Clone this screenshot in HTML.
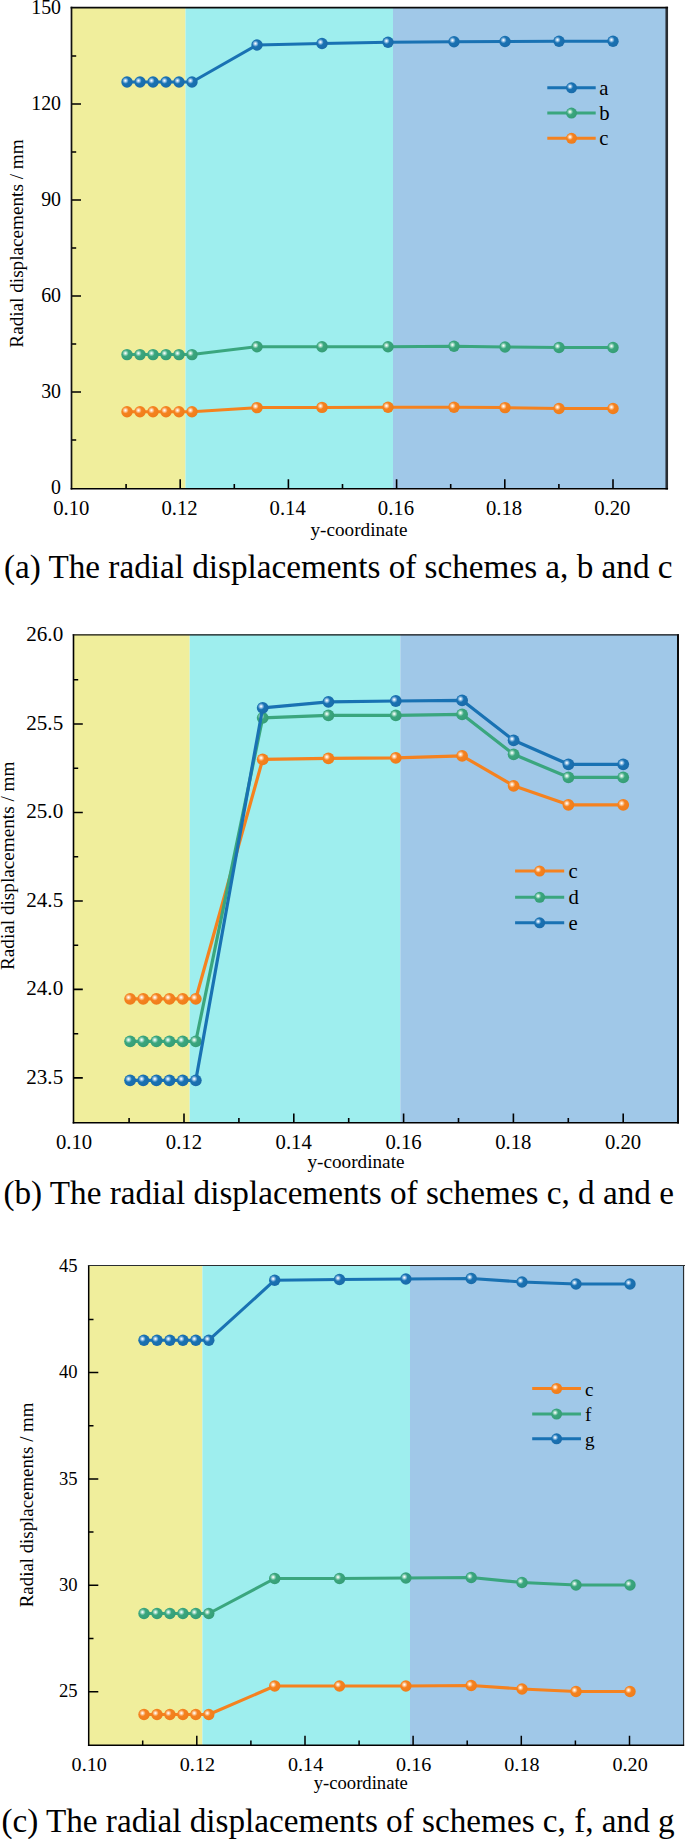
<!DOCTYPE html>
<html><head><meta charset="utf-8"><title>Radial displacements</title>
<style>html,body{margin:0;padding:0;background:#fff}svg{display:block}</style></head><body>
<svg width="685" height="1839" viewBox="0 0 685 1839">
<defs>
<radialGradient id="gB" cx="0.365" cy="0.38" r="0.70" fx="0.365" fy="0.38"><stop offset="0" stop-color="#ffffff"/><stop offset="0.07" stop-color="#e4f0fa"/><stop offset="0.22" stop-color="#84b6de"/><stop offset="0.40" stop-color="#1972b3"/><stop offset="1" stop-color="#1a6aa8"/></radialGradient>
<radialGradient id="gG" cx="0.365" cy="0.38" r="0.70" fx="0.365" fy="0.38"><stop offset="0" stop-color="#ffffff"/><stop offset="0.07" stop-color="#e6f6f0"/><stop offset="0.22" stop-color="#94d2ba"/><stop offset="0.40" stop-color="#3aa67e"/><stop offset="1" stop-color="#359c74"/></radialGradient>
<radialGradient id="gO" cx="0.365" cy="0.38" r="0.70" fx="0.365" fy="0.38"><stop offset="0" stop-color="#ffffff"/><stop offset="0.07" stop-color="#fff2e4"/><stop offset="0.22" stop-color="#fbbe88"/><stop offset="0.40" stop-color="#f5821f"/><stop offset="1" stop-color="#ee7c1a"/></radialGradient>
</defs>
<rect width="685" height="1839" fill="#fff"/>
<rect x="71.5" y="7.5" width="114.0" height="481.2" fill="#f0ee9c"/>
<rect x="185.5" y="7.5" width="207.5" height="481.2" fill="#9eeeee"/>
<rect x="393" y="7.5" width="274.1" height="481.2" fill="#a0c8e8"/>
<path d="M127,82 L140,82 L153,82 L166,82 L179,82 L192,82 L257,45 L322,43.5 L388,42.3 L454,41.7 L505,41.5 L559,41.2 L613,41.2" fill="none" stroke="#1972b3" stroke-width="3" stroke-linejoin="round"/>
<circle cx="127" cy="82" r="5.7" fill="url(#gB)"/>
<circle cx="140" cy="82" r="5.7" fill="url(#gB)"/>
<circle cx="153" cy="82" r="5.7" fill="url(#gB)"/>
<circle cx="166" cy="82" r="5.7" fill="url(#gB)"/>
<circle cx="179" cy="82" r="5.7" fill="url(#gB)"/>
<circle cx="192" cy="82" r="5.7" fill="url(#gB)"/>
<circle cx="257" cy="45" r="5.7" fill="url(#gB)"/>
<circle cx="322" cy="43.5" r="5.7" fill="url(#gB)"/>
<circle cx="388" cy="42.3" r="5.7" fill="url(#gB)"/>
<circle cx="454" cy="41.7" r="5.7" fill="url(#gB)"/>
<circle cx="505" cy="41.5" r="5.7" fill="url(#gB)"/>
<circle cx="559" cy="41.2" r="5.7" fill="url(#gB)"/>
<circle cx="613" cy="41.2" r="5.7" fill="url(#gB)"/>
<path d="M127,354.6 L140,354.6 L153,354.6 L166,354.6 L179,354.6 L192,354.6 L257,346.7 L322,346.7 L388,346.7 L454,346.2 L505,347 L559,347.5 L613,347.5" fill="none" stroke="#3aa67e" stroke-width="3" stroke-linejoin="round"/>
<circle cx="127" cy="354.6" r="5.7" fill="url(#gG)"/>
<circle cx="140" cy="354.6" r="5.7" fill="url(#gG)"/>
<circle cx="153" cy="354.6" r="5.7" fill="url(#gG)"/>
<circle cx="166" cy="354.6" r="5.7" fill="url(#gG)"/>
<circle cx="179" cy="354.6" r="5.7" fill="url(#gG)"/>
<circle cx="192" cy="354.6" r="5.7" fill="url(#gG)"/>
<circle cx="257" cy="346.7" r="5.7" fill="url(#gG)"/>
<circle cx="322" cy="346.7" r="5.7" fill="url(#gG)"/>
<circle cx="388" cy="346.7" r="5.7" fill="url(#gG)"/>
<circle cx="454" cy="346.2" r="5.7" fill="url(#gG)"/>
<circle cx="505" cy="347" r="5.7" fill="url(#gG)"/>
<circle cx="559" cy="347.5" r="5.7" fill="url(#gG)"/>
<circle cx="613" cy="347.5" r="5.7" fill="url(#gG)"/>
<path d="M127,411.7 L140,411.7 L153,411.7 L166,411.7 L179,411.7 L192,411.7 L257,407.6 L322,407.4 L388,407.2 L454,407.2 L505,407.6 L559,408.5 L613,408.5" fill="none" stroke="#f5821f" stroke-width="3" stroke-linejoin="round"/>
<circle cx="127" cy="411.7" r="5.7" fill="url(#gO)"/>
<circle cx="140" cy="411.7" r="5.7" fill="url(#gO)"/>
<circle cx="153" cy="411.7" r="5.7" fill="url(#gO)"/>
<circle cx="166" cy="411.7" r="5.7" fill="url(#gO)"/>
<circle cx="179" cy="411.7" r="5.7" fill="url(#gO)"/>
<circle cx="192" cy="411.7" r="5.7" fill="url(#gO)"/>
<circle cx="257" cy="407.6" r="5.7" fill="url(#gO)"/>
<circle cx="322" cy="407.4" r="5.7" fill="url(#gO)"/>
<circle cx="388" cy="407.2" r="5.7" fill="url(#gO)"/>
<circle cx="454" cy="407.2" r="5.7" fill="url(#gO)"/>
<circle cx="505" cy="407.6" r="5.7" fill="url(#gO)"/>
<circle cx="559" cy="408.5" r="5.7" fill="url(#gO)"/>
<circle cx="613" cy="408.5" r="5.7" fill="url(#gO)"/>
<path d="M547.3,87.8 L595.7,87.8" stroke="#1972b3" stroke-width="3"/>
<circle cx="571.5" cy="87.8" r="5.5" fill="url(#gB)"/>
<text x="599.3" y="94.6" font-family="Liberation Serif, serif" font-size="20.7" fill="#000">a</text>
<path d="M547.3,113.1 L595.7,113.1" stroke="#3aa67e" stroke-width="3"/>
<circle cx="571.5" cy="113.1" r="5.5" fill="url(#gG)"/>
<text x="599.3" y="119.89999999999999" font-family="Liberation Serif, serif" font-size="20.7" fill="#000">b</text>
<path d="M547.3,138.3 L595.7,138.3" stroke="#f5821f" stroke-width="3"/>
<circle cx="571.5" cy="138.3" r="5.5" fill="url(#gO)"/>
<text x="599.3" y="145.10000000000002" font-family="Liberation Serif, serif" font-size="20.7" fill="#000">c</text>
<path d="M180.2,488.7 v-9.5 M288.4,488.7 v-9.5 M396.6,488.7 v-9.5 M504.8,488.7 v-9.5 M613,488.7 v-9.5 M126.1,488.7 v-4.7 M234.3,488.7 v-4.7 M342.5,488.7 v-4.7 M450.7,488.7 v-4.7 M558.9,488.7 v-4.7 M71.5,392 h9.5 M71.5,296 h9.5 M71.5,200 h9.5 M71.5,104 h9.5 M71.5,440 h4.7 M71.5,344 h4.7 M71.5,248 h4.7 M71.5,152 h4.7 M71.5,56 h4.7" stroke="#000" stroke-width="1.6" fill="none"/>
<path d="M71.5,6.625 V489.5" stroke="#111" stroke-width="1.7" fill="none"/>
<path d="M666.75,6.625 V489.5" stroke="#2a2e33" stroke-width="2.6" fill="none"/>
<path d="M70.65,7.5 H668.05" stroke="#0a0a0a" stroke-width="1.75" fill="none"/>
<path d="M70.65,488.7 H668.05" stroke="#000" stroke-width="1.6" fill="none"/>
<text transform="translate(71.3,515) scale(1,1)" text-anchor="middle" font-family="Liberation Serif, serif" font-size="20.7" fill="#000">0.10</text>
<text transform="translate(179.5,515) scale(1,1)" text-anchor="middle" font-family="Liberation Serif, serif" font-size="20.7" fill="#000">0.12</text>
<text transform="translate(287.7,515) scale(1,1)" text-anchor="middle" font-family="Liberation Serif, serif" font-size="20.7" fill="#000">0.14</text>
<text transform="translate(395.9,515) scale(1,1)" text-anchor="middle" font-family="Liberation Serif, serif" font-size="20.7" fill="#000">0.16</text>
<text transform="translate(504.1,515) scale(1,1)" text-anchor="middle" font-family="Liberation Serif, serif" font-size="20.7" fill="#000">0.18</text>
<text transform="translate(612.3,515) scale(1,1)" text-anchor="middle" font-family="Liberation Serif, serif" font-size="20.7" fill="#000">0.20</text>
<text transform="translate(61,494.3) scale(0.96,1)" text-anchor="end" font-family="Liberation Serif, serif" font-size="20.7" fill="#000">0</text>
<text transform="translate(61,398.3) scale(0.96,1)" text-anchor="end" font-family="Liberation Serif, serif" font-size="20.7" fill="#000">30</text>
<text transform="translate(61,302.3) scale(0.96,1)" text-anchor="end" font-family="Liberation Serif, serif" font-size="20.7" fill="#000">60</text>
<text transform="translate(61,206.3) scale(0.96,1)" text-anchor="end" font-family="Liberation Serif, serif" font-size="20.7" fill="#000">90</text>
<text transform="translate(61,110.3) scale(0.96,1)" text-anchor="end" font-family="Liberation Serif, serif" font-size="20.7" fill="#000">120</text>
<text transform="translate(61,14.3) scale(0.96,1)" text-anchor="end" font-family="Liberation Serif, serif" font-size="20.7" fill="#000">150</text>
<text x="359" y="535.9" text-anchor="middle" font-family="Liberation Serif, serif" font-size="19.2" fill="#000">y-coordinate</text>
<text transform="translate(23,243.5) rotate(-90)" text-anchor="middle" font-family="Liberation Serif, serif" font-size="19.2" fill="#000">Radial displacements / mm</text>
<text x="3.9" y="577.7" font-family="Liberation Serif, serif" font-size="33.2" fill="#000" textLength="668.7" lengthAdjust="spacingAndGlyphs">(a) The radial displacements of schemes a, b and c</text>
<rect x="73.5" y="634.4" width="116.19999999999999" height="488.30000000000007" fill="#f0ee9c"/>
<rect x="189.7" y="634.4" width="210.60000000000002" height="488.30000000000007" fill="#9eeeee"/>
<rect x="400.3" y="634.4" width="277.99999999999994" height="488.30000000000007" fill="#a0c8e8"/>
<path d="M130.1,998.8 L143.2,998.8 L156.4,998.8 L169.5,998.8 L182.7,998.8 L195.8,998.8 L262.7,759.3 L328.4,758.3 L395.8,757.8 L462.1,755.8 L513.6,785.8 L568.4,804.8 L623.2,804.8" fill="none" stroke="#f5821f" stroke-width="3.2" stroke-linejoin="round"/>
<circle cx="130.1" cy="998.8" r="5.9" fill="url(#gO)"/>
<circle cx="143.2" cy="998.8" r="5.9" fill="url(#gO)"/>
<circle cx="156.4" cy="998.8" r="5.9" fill="url(#gO)"/>
<circle cx="169.5" cy="998.8" r="5.9" fill="url(#gO)"/>
<circle cx="182.7" cy="998.8" r="5.9" fill="url(#gO)"/>
<circle cx="195.8" cy="998.8" r="5.9" fill="url(#gO)"/>
<circle cx="262.7" cy="759.3" r="5.9" fill="url(#gO)"/>
<circle cx="328.4" cy="758.3" r="5.9" fill="url(#gO)"/>
<circle cx="395.8" cy="757.8" r="5.9" fill="url(#gO)"/>
<circle cx="462.1" cy="755.8" r="5.9" fill="url(#gO)"/>
<circle cx="513.6" cy="785.8" r="5.9" fill="url(#gO)"/>
<circle cx="568.4" cy="804.8" r="5.9" fill="url(#gO)"/>
<circle cx="623.2" cy="804.8" r="5.9" fill="url(#gO)"/>
<path d="M130.1,1041.3 L143.2,1041.3 L156.4,1041.3 L169.5,1041.3 L182.7,1041.3 L195.8,1041.3 L262.7,717.8 L328.4,715.3 L395.8,715.3 L462.1,714.3 L513.6,754.3 L568.4,777.3 L623.2,777.3" fill="none" stroke="#3aa67e" stroke-width="3.2" stroke-linejoin="round"/>
<circle cx="130.1" cy="1041.3" r="5.9" fill="url(#gG)"/>
<circle cx="143.2" cy="1041.3" r="5.9" fill="url(#gG)"/>
<circle cx="156.4" cy="1041.3" r="5.9" fill="url(#gG)"/>
<circle cx="169.5" cy="1041.3" r="5.9" fill="url(#gG)"/>
<circle cx="182.7" cy="1041.3" r="5.9" fill="url(#gG)"/>
<circle cx="195.8" cy="1041.3" r="5.9" fill="url(#gG)"/>
<circle cx="262.7" cy="717.8" r="5.9" fill="url(#gG)"/>
<circle cx="328.4" cy="715.3" r="5.9" fill="url(#gG)"/>
<circle cx="395.8" cy="715.3" r="5.9" fill="url(#gG)"/>
<circle cx="462.1" cy="714.3" r="5.9" fill="url(#gG)"/>
<circle cx="513.6" cy="754.3" r="5.9" fill="url(#gG)"/>
<circle cx="568.4" cy="777.3" r="5.9" fill="url(#gG)"/>
<circle cx="623.2" cy="777.3" r="5.9" fill="url(#gG)"/>
<path d="M130.1,1080.3 L143.2,1080.3 L156.4,1080.3 L169.5,1080.3 L182.7,1080.3 L195.8,1080.3 L262.7,707.8 L328.4,701.9 L395.8,701.0 L462.1,700.3 L513.6,740.3 L568.4,764.3 L623.2,764.3" fill="none" stroke="#1972b3" stroke-width="3.2" stroke-linejoin="round"/>
<circle cx="130.1" cy="1080.3" r="5.9" fill="url(#gB)"/>
<circle cx="143.2" cy="1080.3" r="5.9" fill="url(#gB)"/>
<circle cx="156.4" cy="1080.3" r="5.9" fill="url(#gB)"/>
<circle cx="169.5" cy="1080.3" r="5.9" fill="url(#gB)"/>
<circle cx="182.7" cy="1080.3" r="5.9" fill="url(#gB)"/>
<circle cx="195.8" cy="1080.3" r="5.9" fill="url(#gB)"/>
<circle cx="262.7" cy="707.8" r="5.9" fill="url(#gB)"/>
<circle cx="328.4" cy="701.9" r="5.9" fill="url(#gB)"/>
<circle cx="395.8" cy="701.0" r="5.9" fill="url(#gB)"/>
<circle cx="462.1" cy="700.3" r="5.9" fill="url(#gB)"/>
<circle cx="513.6" cy="740.3" r="5.9" fill="url(#gB)"/>
<circle cx="568.4" cy="764.3" r="5.9" fill="url(#gB)"/>
<circle cx="623.2" cy="764.3" r="5.9" fill="url(#gB)"/>
<path d="M515.1,871 L564.2,871" stroke="#f5821f" stroke-width="3"/>
<circle cx="539.6500000000001" cy="871" r="5.5" fill="url(#gO)"/>
<text x="568.6" y="878.1" font-family="Liberation Serif, serif" font-size="20.7" fill="#000">c</text>
<path d="M515.1,897.3 L564.2,897.3" stroke="#3aa67e" stroke-width="3"/>
<circle cx="539.6500000000001" cy="897.3" r="5.5" fill="url(#gG)"/>
<text x="568.6" y="904.4" font-family="Liberation Serif, serif" font-size="20.7" fill="#000">d</text>
<path d="M515.1,922.8 L564.2,922.8" stroke="#1972b3" stroke-width="3"/>
<circle cx="539.6500000000001" cy="922.8" r="5.5" fill="url(#gB)"/>
<text x="568.6" y="929.9" font-family="Liberation Serif, serif" font-size="20.7" fill="#000">e</text>
<path d="M184.0,1122.7 v-9.3 M293.8,1122.7 v-9.3 M403.6,1122.7 v-9.3 M513.4,1122.7 v-9.3 M623.2,1122.7 v-9.3 M129.1,1122.7 v-4.7 M238.9,1122.7 v-4.7 M348.7,1122.7 v-4.7 M458.5,1122.7 v-4.7 M568.3,1122.7 v-4.7 M73.5,1077.9 h9.3 M73.5,989.4 h9.3 M73.5,901.0 h9.3 M73.5,812.5 h9.3 M73.5,724.0 h9.3 M73.5,1033.7 h4.7 M73.5,945.2 h4.7 M73.5,856.7 h4.7 M73.5,768.2 h4.7 M73.5,679.8 h4.7" stroke="#000" stroke-width="1.6" fill="none"/>
<path d="M73.5,634.125 V1123.5" stroke="#000" stroke-width="1.6" fill="none"/>
<path d="M678.0,634.125 V1123.5" stroke="#0a0a0a" stroke-width="2.0" fill="none"/>
<path d="M72.7,634.75 H679.0" stroke="#111" stroke-width="1.25" fill="none"/>
<path d="M72.7,1122.7 H679.0" stroke="#000" stroke-width="1.6" fill="none"/>
<text transform="translate(74.1,1148.9) scale(1,1)" text-anchor="middle" font-family="Liberation Serif, serif" font-size="20.7" fill="#000">0.10</text>
<text transform="translate(183.9,1148.9) scale(1,1)" text-anchor="middle" font-family="Liberation Serif, serif" font-size="20.7" fill="#000">0.12</text>
<text transform="translate(293.7,1148.9) scale(1,1)" text-anchor="middle" font-family="Liberation Serif, serif" font-size="20.7" fill="#000">0.14</text>
<text transform="translate(403.5,1148.9) scale(1,1)" text-anchor="middle" font-family="Liberation Serif, serif" font-size="20.7" fill="#000">0.16</text>
<text transform="translate(513.3,1148.9) scale(1,1)" text-anchor="middle" font-family="Liberation Serif, serif" font-size="20.7" fill="#000">0.18</text>
<text transform="translate(623.1,1148.9) scale(1,1)" text-anchor="middle" font-family="Liberation Serif, serif" font-size="20.7" fill="#000">0.20</text>
<text transform="translate(63.2,1083.8) scale(1.02,1)" text-anchor="end" font-family="Liberation Serif, serif" font-size="20.7" fill="#000">23.5</text>
<text transform="translate(63.2,995.3) scale(1.02,1)" text-anchor="end" font-family="Liberation Serif, serif" font-size="20.7" fill="#000">24.0</text>
<text transform="translate(63.2,906.9) scale(1.02,1)" text-anchor="end" font-family="Liberation Serif, serif" font-size="20.7" fill="#000">24.5</text>
<text transform="translate(63.2,818.4) scale(1.02,1)" text-anchor="end" font-family="Liberation Serif, serif" font-size="20.7" fill="#000">25.0</text>
<text transform="translate(63.2,729.9) scale(1.02,1)" text-anchor="end" font-family="Liberation Serif, serif" font-size="20.7" fill="#000">25.5</text>
<text transform="translate(63.2,641.4) scale(1.02,1)" text-anchor="end" font-family="Liberation Serif, serif" font-size="20.7" fill="#000">26.0</text>
<text x="356" y="1168" text-anchor="middle" font-family="Liberation Serif, serif" font-size="19.2" fill="#000">y-coordinate</text>
<text transform="translate(14,865.8) rotate(-90)" text-anchor="middle" font-family="Liberation Serif, serif" font-size="19.2" fill="#000">Radial displacements / mm</text>
<text x="3.4" y="1204.4" font-family="Liberation Serif, serif" font-size="33.2" fill="#000" textLength="670.5" lengthAdjust="spacingAndGlyphs">(b) The radial displacements of schemes c, d and e</text>
<rect x="88.7" y="1265.8" width="113.7" height="479.5" fill="#f0ee9c"/>
<rect x="202.4" y="1265.8" width="207.6" height="479.5" fill="#9eeeee"/>
<rect x="410" y="1265.8" width="274.1" height="479.5" fill="#a0c8e8"/>
<path d="M144.0,1714.5 L157.0,1714.5 L169.9,1714.5 L182.9,1714.5 L195.8,1714.5 L208.8,1714.5 L274.7,1686 L339.5,1686 L405.9,1686 L471.2,1685.5 L522.0,1689 L576.0,1691.5 L630.0,1691.5" fill="none" stroke="#f5821f" stroke-width="3.1" stroke-linejoin="round"/>
<circle cx="144.0" cy="1714.5" r="5.7" fill="url(#gO)"/>
<circle cx="157.0" cy="1714.5" r="5.7" fill="url(#gO)"/>
<circle cx="169.9" cy="1714.5" r="5.7" fill="url(#gO)"/>
<circle cx="182.9" cy="1714.5" r="5.7" fill="url(#gO)"/>
<circle cx="195.8" cy="1714.5" r="5.7" fill="url(#gO)"/>
<circle cx="208.8" cy="1714.5" r="5.7" fill="url(#gO)"/>
<circle cx="274.7" cy="1686" r="5.7" fill="url(#gO)"/>
<circle cx="339.5" cy="1686" r="5.7" fill="url(#gO)"/>
<circle cx="405.9" cy="1686" r="5.7" fill="url(#gO)"/>
<circle cx="471.2" cy="1685.5" r="5.7" fill="url(#gO)"/>
<circle cx="522.0" cy="1689" r="5.7" fill="url(#gO)"/>
<circle cx="576.0" cy="1691.5" r="5.7" fill="url(#gO)"/>
<circle cx="630.0" cy="1691.5" r="5.7" fill="url(#gO)"/>
<path d="M144.0,1613.5 L157.0,1613.5 L169.9,1613.5 L182.9,1613.5 L195.8,1613.5 L208.8,1613.5 L274.7,1578.5 L339.5,1578.5 L405.9,1578 L471.2,1577.5 L522.0,1582.5 L576.0,1585 L630.0,1585" fill="none" stroke="#3aa67e" stroke-width="3.1" stroke-linejoin="round"/>
<circle cx="144.0" cy="1613.5" r="5.7" fill="url(#gG)"/>
<circle cx="157.0" cy="1613.5" r="5.7" fill="url(#gG)"/>
<circle cx="169.9" cy="1613.5" r="5.7" fill="url(#gG)"/>
<circle cx="182.9" cy="1613.5" r="5.7" fill="url(#gG)"/>
<circle cx="195.8" cy="1613.5" r="5.7" fill="url(#gG)"/>
<circle cx="208.8" cy="1613.5" r="5.7" fill="url(#gG)"/>
<circle cx="274.7" cy="1578.5" r="5.7" fill="url(#gG)"/>
<circle cx="339.5" cy="1578.5" r="5.7" fill="url(#gG)"/>
<circle cx="405.9" cy="1578" r="5.7" fill="url(#gG)"/>
<circle cx="471.2" cy="1577.5" r="5.7" fill="url(#gG)"/>
<circle cx="522.0" cy="1582.5" r="5.7" fill="url(#gG)"/>
<circle cx="576.0" cy="1585" r="5.7" fill="url(#gG)"/>
<circle cx="630.0" cy="1585" r="5.7" fill="url(#gG)"/>
<path d="M144.0,1340.2 L157.0,1340.2 L169.9,1340.2 L182.9,1340.2 L195.8,1340.2 L208.8,1340.2 L274.7,1280.2 L339.5,1279.5 L405.9,1279 L471.2,1278.5 L522.0,1282 L576.0,1284 L630.0,1284" fill="none" stroke="#1972b3" stroke-width="3.1" stroke-linejoin="round"/>
<circle cx="144.0" cy="1340.2" r="5.7" fill="url(#gB)"/>
<circle cx="157.0" cy="1340.2" r="5.7" fill="url(#gB)"/>
<circle cx="169.9" cy="1340.2" r="5.7" fill="url(#gB)"/>
<circle cx="182.9" cy="1340.2" r="5.7" fill="url(#gB)"/>
<circle cx="195.8" cy="1340.2" r="5.7" fill="url(#gB)"/>
<circle cx="208.8" cy="1340.2" r="5.7" fill="url(#gB)"/>
<circle cx="274.7" cy="1280.2" r="5.7" fill="url(#gB)"/>
<circle cx="339.5" cy="1279.5" r="5.7" fill="url(#gB)"/>
<circle cx="405.9" cy="1279" r="5.7" fill="url(#gB)"/>
<circle cx="471.2" cy="1278.5" r="5.7" fill="url(#gB)"/>
<circle cx="522.0" cy="1282" r="5.7" fill="url(#gB)"/>
<circle cx="576.0" cy="1284" r="5.7" fill="url(#gB)"/>
<circle cx="630.0" cy="1284" r="5.7" fill="url(#gB)"/>
<path d="M532.2,1388.5 L581,1388.5" stroke="#f5821f" stroke-width="3"/>
<circle cx="556.6" cy="1388.5" r="5.5" fill="url(#gO)"/>
<text x="585" y="1395.5" font-family="Liberation Serif, serif" font-size="19.2" fill="#000">c</text>
<path d="M532.2,1414 L581,1414" stroke="#3aa67e" stroke-width="3"/>
<circle cx="556.6" cy="1414" r="5.5" fill="url(#gG)"/>
<text x="585" y="1421" font-family="Liberation Serif, serif" font-size="19.2" fill="#000">f</text>
<path d="M532.2,1438.8 L581,1438.8" stroke="#1972b3" stroke-width="3"/>
<circle cx="556.6" cy="1438.8" r="5.5" fill="url(#gB)"/>
<text x="585" y="1445.8" font-family="Liberation Serif, serif" font-size="19.2" fill="#000">g</text>
<path d="M196.8,1745.3 v-9.6 M305.0,1745.3 v-9.6 M413.1,1745.3 v-9.6 M521.3,1745.3 v-9.6 M629.5,1745.3 v-9.6 M142.7,1745.3 v-4.8 M250.9,1745.3 v-4.8 M359.1,1745.3 v-4.8 M467.2,1745.3 v-4.8 M575.4,1745.3 v-4.8 M88.7,1691.7 h9.6 M88.7,1585.3 h9.6 M88.7,1479.0 h9.6 M88.7,1372.6 h9.6 M88.7,1638.5 h4.8 M88.7,1532.1 h4.8 M88.7,1425.8 h4.8 M88.7,1319.4 h4.8" stroke="#000" stroke-width="1.5" fill="none"/>
<path d="M88.7,1264.875 V1746.05" stroke="#000" stroke-width="1.5" fill="none"/>
<path d="M683.55,1264.875 V1746.05" stroke="#2a2e31" stroke-width="1.15" fill="none"/>
<path d="M87.95,1265.45 H685" stroke="#2a2e31" stroke-width="1.15" fill="none"/>
<path d="M87.95,1745.3 H684.125" stroke="#000" stroke-width="1.5" fill="none"/>
<text transform="translate(89.2,1770.5) scale(1.05,1)" text-anchor="middle" font-family="Liberation Serif, serif" font-size="19.2" fill="#000">0.10</text>
<text transform="translate(197.4,1770.5) scale(1.05,1)" text-anchor="middle" font-family="Liberation Serif, serif" font-size="19.2" fill="#000">0.12</text>
<text transform="translate(305.6,1770.5) scale(1.05,1)" text-anchor="middle" font-family="Liberation Serif, serif" font-size="19.2" fill="#000">0.14</text>
<text transform="translate(413.7,1770.5) scale(1.05,1)" text-anchor="middle" font-family="Liberation Serif, serif" font-size="19.2" fill="#000">0.16</text>
<text transform="translate(521.9,1770.5) scale(1.05,1)" text-anchor="middle" font-family="Liberation Serif, serif" font-size="19.2" fill="#000">0.18</text>
<text transform="translate(630.1,1770.5) scale(1.05,1)" text-anchor="middle" font-family="Liberation Serif, serif" font-size="19.2" fill="#000">0.20</text>
<text transform="translate(77.5,1697.3) scale(0.97,1)" text-anchor="end" font-family="Liberation Serif, serif" font-size="19.2" fill="#000">25</text>
<text transform="translate(77.5,1590.9) scale(0.97,1)" text-anchor="end" font-family="Liberation Serif, serif" font-size="19.2" fill="#000">30</text>
<text transform="translate(77.5,1484.6) scale(0.97,1)" text-anchor="end" font-family="Liberation Serif, serif" font-size="19.2" fill="#000">35</text>
<text transform="translate(77.5,1378.2) scale(0.97,1)" text-anchor="end" font-family="Liberation Serif, serif" font-size="19.2" fill="#000">40</text>
<text transform="translate(77.5,1271.8) scale(0.97,1)" text-anchor="end" font-family="Liberation Serif, serif" font-size="19.2" fill="#000">45</text>
<text x="360.8" y="1788.9" text-anchor="middle" font-family="Liberation Serif, serif" font-size="18.65" fill="#000">y-coordinate</text>
<text transform="translate(33,1504.9) rotate(-90)" text-anchor="middle" font-family="Liberation Serif, serif" font-size="18.85" fill="#000">Radial displacements / mm</text>
<text x="1.4" y="1831.7" font-family="Liberation Serif, serif" font-size="33.2" fill="#000" textLength="673.3" lengthAdjust="spacingAndGlyphs">(c) The radial displacements of schemes c, f, and g</text>
</svg></body></html>
